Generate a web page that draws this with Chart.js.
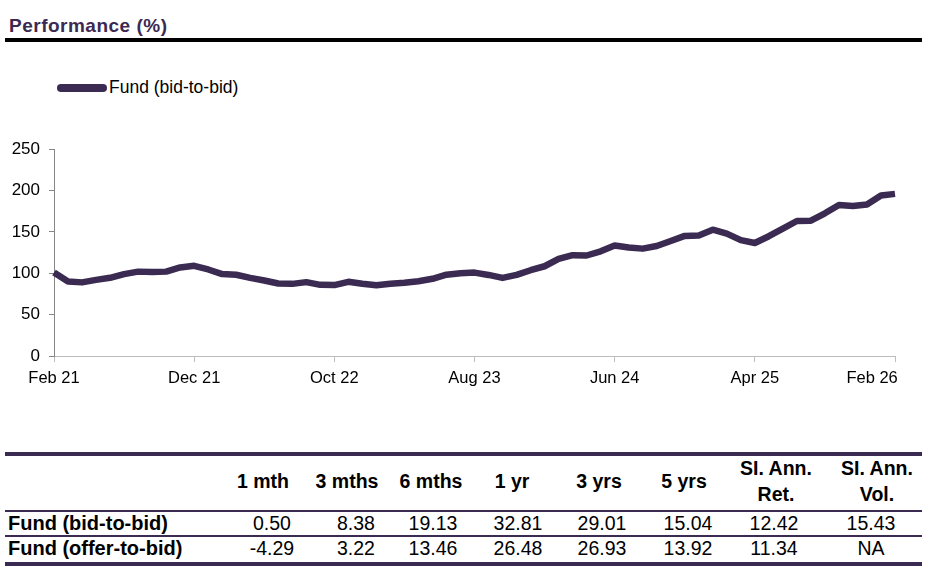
<!DOCTYPE html>
<html>
<head>
<meta charset="utf-8">
<script src="https://cdn.jsdelivr.net/npm/chart.js@4.4.1/dist/chart.umd.min.js"></script>
<style>
  html, body { margin:0; padding:0; background:#fff; }
  body { width:932px; height:568px; position:relative; overflow:hidden; font-family:"Liberation Sans", Arial, sans-serif; }
  .abs { position:absolute; }
  #title { left:9px; top:15px; font-weight:bold; font-size:19px; color:#3b2a52; letter-spacing:0.5px; }
  #rule { left:5px; top:38px; width:917px; height:4px; background:#000; }
  #legbar { left:57px; top:84px; width:50px; height:8px; border-radius:4px; background:#3b2a52; }
  #legtxt { left:109px; top:77px; font-size:17.5px; color:#000; }
  #chartwrap { left:0; top:130px; width:932px; height:270px; }
  .tline { position:absolute; left:5px; width:917px; background:#3b2a52; }
  .cell { position:absolute; width:120px; text-align:center; font-size:19.5px; color:#000; white-space:pre; }
  .hdr { font-weight:bold; display:flex; align-items:center; justify-content:center; height:50px; line-height:26px; }
  .rowlbl { position:absolute; left:8px; font-size:20px; font-weight:bold; color:#000; }
</style>
</head>
<body>
<div id="title" class="abs">Performance (%)</div>
<div id="rule" class="abs"></div>
<div id="legbar" class="abs"></div>
<div id="legtxt" class="abs">Fund (bid-to-bid)</div>
<div id="chartwrap" class="abs"><canvas id="c" width="932" height="270"></canvas></div>
<div id="table"></div>
<script>
// ---- chart data ----
const categories = [
  'Feb 21','Mar 21','Apr 21','May 21','Jun 21','Jul 21','Aug 21','Sep 21','Oct 21','Nov 21','Dec 21',
  'Jan 22','Feb 22','Mar 22','Apr 22','May 22','Jun 22','Jul 22','Aug 22','Sep 22','Oct 22',
  'Nov 22','Dec 22','Jan 23','Feb 23','Mar 23','Apr 23','May 23','Jun 23','Jul 23','Aug 23',
  'Sep 23','Oct 23','Nov 23','Dec 23','Jan 24','Feb 24','Mar 24','Apr 24','May 24','Jun 24',
  'Jul 24','Aug 24','Sep 24','Oct 24','Nov 24','Dec 24','Jan 25','Feb 25','Mar 25','Apr 25',
  'May 25','Jun 25','Jul 25','Aug 25','Sep 25','Oct 25','Nov 25','Dec 25','Jan 26','Feb 26'
];
const fundBidToBid = [
  101, 90, 89, 92, 94.5, 99, 102, 101.6, 102, 107, 109,
  104.6, 99, 98.2, 94.5, 91.3, 87.6, 87.2, 89.3, 86, 85.7,
  89.7, 87.4, 85.6, 87.4, 88.5, 90.3, 93.3, 98.3, 100.1, 100.8,
  98, 94.4, 98, 103.7, 108.5, 117.3, 121.9, 121.5, 126.6, 133.6,
  131.2, 129.8, 133, 139.1, 145.2, 145.8, 152.7, 148, 140.1, 136.6,
  144.8, 154, 163.2, 163.6, 172.5, 182.6, 181.4, 183.1, 194, 196
];
const xTickLabels = ['Feb 21','Dec 21','Oct 22','Aug 23','Jun 24','Apr 25','Feb 26'];
const yTicks = [0, 50, 100, 150, 200, 250];

// ---- table data ----
const tableHeaders = ['1 mth','3 mths','6 mths','1 yr','3 yrs','5 yrs','SI. Ann.\nRet.','SI. Ann.\nVol.'];
const rowLabels = ['Fund (bid-to-bid)','Fund (offer-to-bid)'];
const rowBidToBid = ['0.50','8.38','19.13','32.81','29.01','15.04','12.42','15.43'];
const rowOfferToBid = ['-4.29','3.22','13.46','26.48','26.93','13.92','11.34','NA'];

// ---- table layout ----
const hdrCenters = [263, 347, 431, 512, 599, 684, 776, 877];
const valCenters = [272, 356, 433, 518, 602, 688, 774, 871];
const tbl = document.getElementById('table');
function addLine(top, h){ const d=document.createElement('div'); d.className='tline'; d.style.top=top+'px'; d.style.height=h+'px'; tbl.appendChild(d); }
addLine(452, 4); addLine(510, 2); addLine(535, 2); addLine(562, 4);
tableHeaders.forEach((h,i)=>{
  const d=document.createElement('div'); d.className='cell hdr'; d.textContent=h;
  d.style.left=(hdrCenters[i]-60)+'px'; d.style.top='456px'; tbl.appendChild(d);
});
[rowBidToBid, rowOfferToBid].forEach((row, r)=>{
  const top = r===0 ? 511 : 536;
  const l=document.createElement('div'); l.className='rowlbl'; l.textContent=rowLabels[r];
  l.style.top=(top)+'px'; l.style.lineHeight='24px'; tbl.appendChild(l);
  row.forEach((v,i)=>{
    const d=document.createElement('div'); d.className='cell'; d.textContent=v;
    d.style.left=(valCenters[i]-60)+'px'; d.style.top=top+'px'; d.style.lineHeight='24px'; tbl.appendChild(d);
  });
});

// ---- chart ----
Chart.defaults.font.family = '"Liberation Sans", Arial, sans-serif';
const lineColor = '#3b2a52';
new Chart(document.getElementById('c'), {
  type: 'line',
  data: {
    labels: categories,
    datasets: [{
      label: 'Fund (bid-to-bid)',
      data: fundBidToBid,
      borderColor: lineColor,
      borderWidth: 6.5,
      pointRadius: 0,
      tension: 0,
      borderJoinStyle: 'round',
      borderCapStyle: 'butt',
      fill: false
    }]
  },
  options: {
    responsive: false,
    animation: false,
    layout: { padding: { top: 16, right: 37, left: 0, bottom: 0 } },
    plugins: { legend: { display: false }, tooltip: { enabled: false } },
    scales: {
      x: {
        type: 'category',
        offset: false,
        border: { color: '#bdbdbd', width: 1 },
        grid: {
          drawOnChartArea: false, drawTicks: true, tickLength: 6,
          color: (ctx) => (ctx.index % 10 === 0 ? '#bdbdbd' : 'rgba(0,0,0,0)')
        },
        ticks: {
          autoSkip: false, maxRotation: 0, minRotation: 0, padding: 7,
          color: '#000', font: { size: 16.5 },
          callback: (v, i) => {
            if (i % 10 !== 0) return '';
            const lbl = xTickLabels[i / 10];
            return (i === categories.length - 1) ? lbl + '\u00A0'.repeat(10) : lbl;
          }
        },
        afterFit: (s) => { s.height = 44; s.paddingLeft = 0; s.paddingRight = 0; }
      },
      y: {
        min: 0, max: 250,
        border: { color: '#868686', width: 1 },
        grid: { drawOnChartArea: false, drawTicks: true, tickLength: 5, color: '#868686' },
        afterBuildTicks: (s) => { s.ticks = yTicks.map(v => ({ value: v })); },
        ticks: { padding: 9, color: '#000', font: { size: 17 } },
        afterFit: (s) => { s.width = 54; }
      }
    }
  }
});
</script>
</body>
</html>
